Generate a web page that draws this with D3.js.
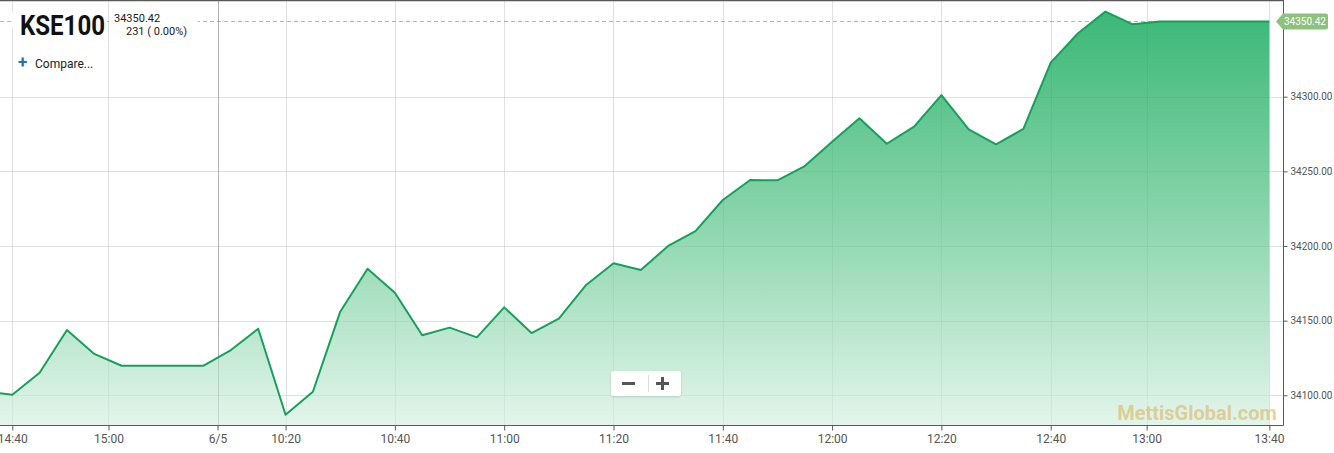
<!DOCTYPE html>
<html>
<head>
<meta charset="utf-8">
<script src="https://cdn.jsdelivr.net/npm/d3@7"></script>
<style>
  html, body { margin: 0; padding: 0; background: #fff; }
  svg { display: block; font-family: Roboto, "Noto Sans", sans-serif; }
</style>
</head>
<body>
<svg id="chart" width="1334" height="453"></svg>
<script>
// ---- data ----
// index 0 is the point just before the visible window (partly clipped)
const values = [
  34102.5, 34100.4, 34115.1, 34143.7, 34127.7, 34119.8, 34119.8, 34119.8,
  34119.8, 34130.3, 34144.6, 34087.0, 34102.4, 34156.0, 34184.8, 34168.7,
  34140.2, 34145.3, 34138.8, 34158.9, 34141.7, 34151.3, 34173.9, 34188.4,
  34183.9, 34200.0, 34210.0, 34230.8, 34244.2, 34244.0, 34253.5, 34269.8,
  34285.5, 34268.5, 34279.9, 34301.1, 34278.1, 34268.1, 34278.4, 34322.8,
  34342.5, 34357.0, 34348.5, 34350.42, 34350.42, 34350.42, 34350.42, 34350.42
];
const tickLabels = ["14:40", "15:00", "6/5", "10:20", "10:40", "11:00", "11:20",
                    "11:40", "12:00", "12:20", "12:40", "13:00", "13:40"];
const tickIndex  = [1, 4.52, 8.51, 11.0, 15.0, 19.0, 23.0, 27.0, 31.0, 35.0, 39.0, 42.51, 47];
const yTicks = [34100, 34150, 34200, 34250, 34300];
const lastValue = 34350.42;
const title = "KSE100";
const changeText = "231 ( 0.00%)";

// ---- layout ----
const W = 1334, H = 453;
const plotL = 0, plotR = 1283, plotT = 0, plotB = 425;

const svg = d3.select("#chart");
const x = d3.scaleLinear().domain([0.55, 47.5]).range([plotL, plotR]);
const y = d3.scaleLinear().domain([34080.1, 34364.77]).range([plotB, plotT]);

const defs = svg.append("defs");
defs.append("clipPath").attr("id", "clip")
  .append("rect").attr("x", plotL).attr("y", plotT)
  .attr("width", plotR - plotL).attr("height", plotB - plotT);

const grad = defs.append("linearGradient").attr("id", "areaGrad")
  .attr("gradientUnits", "userSpaceOnUse")
  .attr("x1", 0).attr("x2", 0)
  .attr("y1", y(d3.max(values))).attr("y2", plotB);
grad.append("stop").attr("offset", "0%").attr("stop-color", "#3bb877");
grad.append("stop").attr("offset", "50%").attr("stop-color", "#8ad5ac");
grad.append("stop").attr("offset", "100%").attr("stop-color", "#e3f5eb");

const filt = defs.append("filter").attr("id", "shadow")
  .attr("x", "-20%").attr("y", "-30%").attr("width", "140%").attr("height", "160%");
filt.append("feDropShadow").attr("dx", 0).attr("dy", 1).attr("stdDeviation", 1)
  .attr("flood-color", "#000").attr("flood-opacity", 0.15);

// ---- grid (behind) ----
const grid = svg.append("g");
grid.selectAll("line.h").data(yTicks).join("line")
  .attr("x1", plotL).attr("x2", plotR)
  .attr("y1", d => Math.round(y(d)) + 0.5).attr("y2", d => Math.round(y(d)) + 0.5)
  .attr("stroke", "#ebebeb");
grid.selectAll("line.v").data(tickIndex).join("line")
  .attr("x1", d => Math.round(x(d)) + 0.5).attr("x2", d => Math.round(x(d)) + 0.5)
  .attr("y1", plotT).attr("y2", plotB)
  .attr("stroke", (d, i) => tickLabels[i] === "6/5" ? "#cccccc" : "#ebebeb");

// ---- last value dashed line ----
svg.append("line")
  .attr("x1", plotL).attr("x2", x(47))
  .attr("y1", Math.round(y(lastValue)) + 0.5).attr("y2", Math.round(y(lastValue)) + 0.5)
  .attr("stroke", "#b5b5b5").attr("stroke-dasharray", "4,3");

// ---- area + line ----
const g = svg.append("g").attr("clip-path", "url(#clip)");
const area = d3.area().x((d, i) => x(i)).y0(plotB).y1(d => y(d));
const line = d3.line().x((d, i) => x(i)).y(d => y(d));
g.append("path").datum(values).attr("d", area).attr("fill", "url(#areaGrad)");

// faint grid over the area
const grid2 = g.append("g");
grid2.selectAll("line.h").data(yTicks).join("line")
  .attr("x1", plotL).attr("x2", plotR)
  .attr("y1", d => Math.round(y(d)) + 0.5).attr("y2", d => Math.round(y(d)) + 0.5)
  .attr("stroke", "rgba(0,0,0,0.045)");
grid2.selectAll("line.v").data(tickIndex).join("line")
  .attr("x1", d => Math.round(x(d)) + 0.5).attr("x2", d => Math.round(x(d)) + 0.5)
  .attr("y1", plotT).attr("y2", plotB)
  .attr("stroke", (d, i) => tickLabels[i] === "6/5" ? "rgba(0,0,0,0.12)" : "rgba(0,0,0,0.045)");

g.append("path").datum(values).attr("d", line)
  .attr("fill", "none").attr("stroke", "#16a05a").attr("stroke-width", 2)
  .attr("stroke-linejoin", "round");

// ---- frame ----
svg.append("line").attr("x1", plotL).attr("x2", plotR + 0.5).attr("y1", 0.5).attr("y2", 0.5)
  .attr("stroke", "#5a5a5a").attr("stroke-width", 1.5);
svg.append("line").attr("x1", plotR + 0.5).attr("x2", plotR + 0.5).attr("y1", 0).attr("y2", plotB + 0.5)
  .attr("stroke", "#5a5a5a");

// ---- axes ----
const xAxis = svg.append("g").attr("transform", `translate(0,${plotB + 0.5})`)
  .call(d3.axisBottom(x).tickValues(tickIndex).tickFormat((d, i) => tickLabels[i]).tickSize(5).tickPadding(4));
xAxis.select(".domain").attr("d", `M${plotL},0H${plotR + 0.5}`).attr("stroke", "#5a5a5a");
xAxis.selectAll(".tick line").attr("stroke", "#5a5a5a");
xAxis.selectAll(".tick text").attr("fill", "#555").attr("font-size", 12)
  .attr("font-family", "Roboto, sans-serif");
xAxis.selectAll(".tick").filter((d, i) => i === tickLabels.length - 1)
  .select("text").attr("text-anchor", "end").attr("x", plotR - x(47) + 1);

const yAxis = svg.append("g").attr("transform", `translate(${plotR + 0.5},0)`)
  .call(d3.axisRight(y).tickValues(yTicks).tickFormat(d3.format(".2f")).tickSize(4).tickPadding(3));
yAxis.select(".domain").remove();
yAxis.selectAll(".tick line").attr("stroke", "#5a5a5a");
yAxis.selectAll(".tick text").attr("fill", "#555").attr("font-size", 10)
  .attr("font-family", "Roboto, sans-serif");

// ---- current value tag ----
const ty = y(lastValue);
const tag = svg.append("g").attr("transform", `translate(${plotR - 7},${ty})`);
tag.append("path")
  .attr("d", "M0,0 L7,-8 H50 Q52,-8 52,-6 V6 Q52,8 50,8 H7 Z")
  .attr("fill", "#8cc27b");
tag.append("text").attr("x", 29).attr("y", 3.5).attr("text-anchor", "middle")
  .attr("fill", "#fff").attr("font-size", 10).text(lastValue.toFixed(2));

// ---- header ----
svg.append("rect").attr("x", 12).attr("y", 12).attr("width", 95).attr("height", 16).attr("fill", "#fff");
svg.append("rect").attr("x", 110).attr("y", 12).attr("width", 88).attr("height", 16).attr("fill", "#fff");
svg.append("text").attr("x", 20).attr("y", 35)
  .attr("font-size", 28).attr("font-weight", 700).attr("fill", "#111")
  .attr("textLength", 85).attr("lengthAdjust", "spacingAndGlyphs").text(title);
svg.append("text").attr("x", 114).attr("y", 22).attr("font-size", 11).attr("fill", "#222")
  .text(lastValue.toFixed(2));
svg.append("text").attr("x", 126).attr("y", 35).attr("font-size", 11).attr("fill", "#222")
  .text(changeText);
svg.append("text").attr("x", 18).attr("y", 68).attr("font-size", 17).attr("font-weight", 700)
  .attr("fill", "#2a6ebb").text("+");
svg.append("text").attr("x", 35).attr("y", 67.5).attr("font-size", 12).attr("fill", "#222")
  .text("Compare...");

// ---- zoom buttons ----
const zb = svg.append("g").attr("transform", "translate(611,371)");
zb.append("rect").attr("width", 70).attr("height", 25).attr("rx", 3)
  .attr("fill", "#fff").attr("filter", "url(#shadow)");
zb.append("rect").attr("x", 11).attr("y", 11).attr("width", 13).attr("height", 3).attr("fill", "#555");
zb.append("rect").attr("x", 45).attr("y", 11).attr("width", 13).attr("height", 3).attr("fill", "#555");
zb.append("rect").attr("x", 50).attr("y", 6).attr("width", 3).attr("height", 13).attr("fill", "#555");
zb.append("line").attr("x1", 37.5).attr("x2", 37.5).attr("y1", 4).attr("y2", 21).attr("stroke", "#ddd");

// ---- watermark ----
svg.append("text").attr("x", 1197).attr("y", 420).attr("text-anchor", "middle")
  .attr("font-size", 20).attr("font-weight", 700)
  .attr("fill", "#dcb460").attr("fill-opacity", 0.62).text("MettisGlobal.com");
</script>
</body>
</html>
